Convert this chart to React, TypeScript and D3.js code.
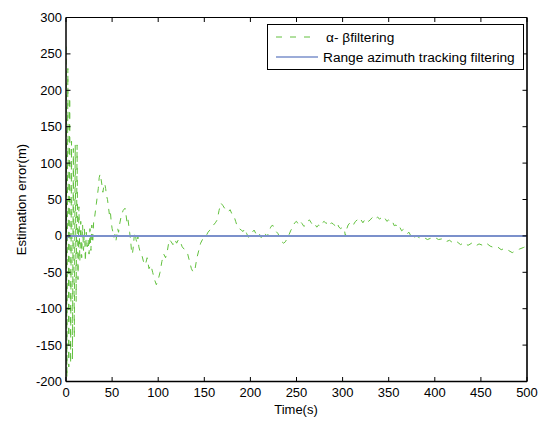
import * as d3 from 'd3'
import { useEffect, useRef } from 'react'

// alpha-beta filter error (time in s, error in m)
const abTime = [
	0, 1, 2, 3, 4, 5, 6, 7, 8, 9, 10, 11, 12, 13, 14, 15, 16, 17, 18, 19,
	20, 21, 22, 23, 24, 25, 26, 27, 28, 29, 30, 31, 32, 33, 34, 35, 36, 37, 38, 39,
	40, 41, 42, 43, 44, 45, 46, 47, 48, 49, 50, 51, 52, 53, 54, 55, 56, 57, 58, 60,
	62, 64, 65, 66, 67, 68, 69, 70, 71, 72, 73, 74, 75, 76, 77, 78, 79, 80, 82, 84,
	86, 88, 90, 92, 94, 96, 98, 100, 102, 104, 106, 108, 110, 112, 114, 116, 118, 120, 122, 124,
	126, 128, 130, 132, 134, 136, 138, 140, 142, 144, 146, 148, 150, 152, 154, 156, 158, 160, 162, 164,
	166, 168, 170, 172, 174, 176, 178, 180, 182, 184, 186, 188, 190, 192, 194, 196, 198, 200, 202, 204,
	206, 208, 210, 212, 214, 216, 218, 220, 222, 224, 226, 228, 230, 232, 234, 236, 238, 240, 242, 244,
	246, 248, 250, 252, 254, 256, 258, 260, 262, 264, 266, 268, 270, 272, 274, 276, 278, 280, 282, 284,
	286, 288, 290, 292, 294, 296, 298, 300, 302, 303, 304, 306, 308, 310, 312, 314, 316, 318, 320, 322,
	324, 326, 328, 330, 332, 334, 336, 338, 340, 342, 344, 346, 348, 350, 352, 354, 356, 358, 360, 362,
	364, 366, 368, 370, 372, 374, 376, 378, 380, 384, 388, 392, 396, 400, 404, 408, 412, 416, 420, 424,
	428, 432, 436, 440, 444, 448, 452, 456, 460, 464, 468, 472, 476, 480, 484, 488, 492, 496, 500,
]
const abError = [
	260, -195, 230, -180, 190, -175, 130, -170, 120, -140, 125, -90, 125, -60, 40, -35, 20, -30, 15, -20,
	10, -35, 5, -15, -5, -25, 10, -20, 15, -10, 20, 25, 35, 45, 55, 65, 80, 85, 78, 70,
	60, 68, 72, 65, 55, 50, 40, 30, 35, 20, 10, 5, -2, 2, -8, 0, 10, 5, 15, 28,
	35, 38, 30, 20, 25, 15, 5, -5, -20, -25, -15, 0, 5, -5, -10, 0, -15, -20, -25, -35,
	-40, -30, -45, -40, -50, -60, -67, -60, -50, -35, -25, -30, -20, -5, -8, -12, -5, -10, -5, -8,
	-15, -18, -20, -25, -35, -45, -50, -45, -30, -20, -10, -5, -2, 0, 5, 8, 10, 15, 18, 22,
	35, 45, 42, 38, 35, 33, 36, 30, 28, 20, 12, 10, 8, 6, 10, 3, -2, 2, 5, 8,
	3, -2, 2, -3, 0, 3, -1, 5, 12, 15, 10, 6, 3, -3, -8, -10, -8, -3, 2, 8,
	12, 18, 20, 16, 20, 17, 13, 15, 20, 22, 18, 14, 16, 12, 15, 13, 18, 20, 17, 19,
	15, 18, 16, 14, 18, 12, 10, 12, 8, 0, 8, 15, 18, 20, 16, 20, 22, 19, 22, 18,
	22, 24, 20, 22, 25, 27, 24, 26, 23, 25, 22, 24, 20, 22, 19, 20, 14, 15, 10, 12,
	7, 9, 5, 3, 5, 0, 2, -2, 0, -3, -2, -5, -3, -2, -5, -4, -8, -6, -10, -8,
	-12, -9, -13, -10, -14, -11, -13, -10, -14, -16, -15, -19, -17, -20, -23, -20, -18, -16, -14,
]

// range azimuth tracking filter error
const raTime = [0, 2, 500]
const raError = [-5, 0, 0]

const xTicks = [0, 50, 100, 150, 200, 250, 300, 350, 400, 450, 500]
const yTicks = [-200, -150, -100, -50, 0, 50, 100, 150, 200, 250, 300]

const legendLabels = ['\u03b1- \u03b2filtering', 'Range azimuth tracking filtering']

export default function App() {
	const svgRef = useRef<SVGSVGElement>(null)

	useEffect(() => {
		const svg = d3.select(svgRef.current)
		svg.selectAll('*').remove()

		const left = 66
		const right = 527
		const top = 17.5
		const bottom = 381.5
		const font = '"Liberation Sans", Arial, Helvetica, sans-serif'
		const fontSize = '13px'
		const green = '#62c03e'
		const blue = '#7b90cb'

		const x = d3.scaleLinear().domain([0, 500]).range([left, right])
		const y = d3.scaleLinear().domain([-200, 300]).range([bottom, top])

		svg.append('rect').attr('width', 541).attr('height', 421).attr('fill', 'white')

		const clip = svg.append('clipPath').attr('id', 'plotclip')
		clip.append('rect').attr('x', left).attr('y', top).attr('width', right - left).attr('height', bottom - top)

		const plot = svg.append('g').attr('clip-path', 'url(#plotclip)')

		const line = d3
			.line<number>()
			.x((d, i) => x(abTime[i]))
			.y((d) => y(d))

		plot
			.append('path')
			.datum(abError)
			.attr('fill', 'none')
			.attr('stroke', green)
			.attr('stroke-width', 1)
			.attr('stroke-dasharray', '6,6')
			.attr('d', line)

		const blueLine = d3
			.line<number>()
			.x((d, i) => x(raTime[i]))
			.y((d) => y(d))

		plot
			.append('path')
			.datum(raError)
			.attr('fill', 'none')
			.attr('stroke', blue)
			.attr('stroke-width', 2)
			.attr('d', blueLine)

		// ---- box ----
		const box = svg.append('g').attr('stroke', '#000').attr('fill', 'none')
		box.append('line').attr('x1', left).attr('x2', right).attr('y1', top).attr('y2', top).attr('stroke-width', 1)
		box.append('line').attr('x1', left).attr('x2', right).attr('y1', bottom).attr('y2', bottom).attr('stroke-width', 1.5)
		box.append('line').attr('x1', left).attr('x2', left).attr('y1', top).attr('y2', bottom).attr('stroke-width', 1.5)
		box.append('line').attr('x1', right).attr('x2', right).attr('y1', top).attr('y2', bottom).attr('stroke-width', 2).attr('stroke', '#333')

		const tickLen = 4.5
		xTicks.forEach((t) => {
			box.append('line').attr('x1', x(t)).attr('x2', x(t)).attr('y1', bottom).attr('y2', bottom - tickLen)
			box.append('line').attr('x1', x(t)).attr('x2', x(t)).attr('y1', top).attr('y2', top + tickLen)
			svg
				.append('text')
				.attr('x', x(t))
				.attr('y', bottom + 15.5)
				.attr('text-anchor', 'middle')
				.style('font-family', font)
				.style('font-size', fontSize)
				.text(t)
		})
		yTicks.forEach((t) => {
			box.append('line').attr('x1', left).attr('x2', left + tickLen).attr('y1', y(t)).attr('y2', y(t))
			box.append('line').attr('x1', right).attr('x2', right - tickLen).attr('y1', y(t)).attr('y2', y(t))
			svg
				.append('text')
				.attr('x', left - 4)
				.attr('y', y(t) + 4.5)
				.attr('text-anchor', 'end')
				.style('font-family', font)
				.style('font-size', fontSize)
				.text(t)
		})

		svg
			.append('text')
			.attr('x', 296)
			.attr('y', 414)
			.attr('text-anchor', 'middle')
			.style('font-family', font)
			.style('font-size', fontSize)
			.text('Time(s)')

		svg
			.append('text')
			.attr('transform', `translate(26,${(top + bottom) / 2}) rotate(-90)`)
			.attr('text-anchor', 'middle')
			.style('font-family', font)
			.style('font-size', fontSize)
			.text('Estimation error(m)')

		// ---- legend ----
		const lg = svg.append('g')
		lg.append('rect')
			.attr('x', 267.5)
			.attr('y', 24.5)
			.attr('width', 256)
			.attr('height', 45)
			.attr('fill', 'white')
			.attr('stroke', '#000')
			.attr('stroke-width', 1)
		const legendColors = [green, blue]
		legendLabels.forEach((label, i) => {
			const ly = 37 + i * 20
			lg.append('line')
				.attr('x1', 276)
				.attr('x2', 318)
				.attr('y1', ly)
				.attr('y2', ly)
				.attr('stroke', legendColors[i])
				.attr('stroke-width', i === 0 ? 1 : 1.5)
				.attr('stroke-dasharray', i === 0 ? '6,8' : null)
			lg.append('text')
				.attr('x', i === 0 ? 326 : 323)
				.attr('y', ly + 5)
				.style('font-family', font)
				.style('font-size', '13.7px')
				.text(label)
		})
	}, [])

	return (
		<svg
			ref={svgRef}
			width={541}
			height={421}
			style={{ position: 'absolute', left: 0, top: 0, display: 'block' }}
		/>
	)
}
